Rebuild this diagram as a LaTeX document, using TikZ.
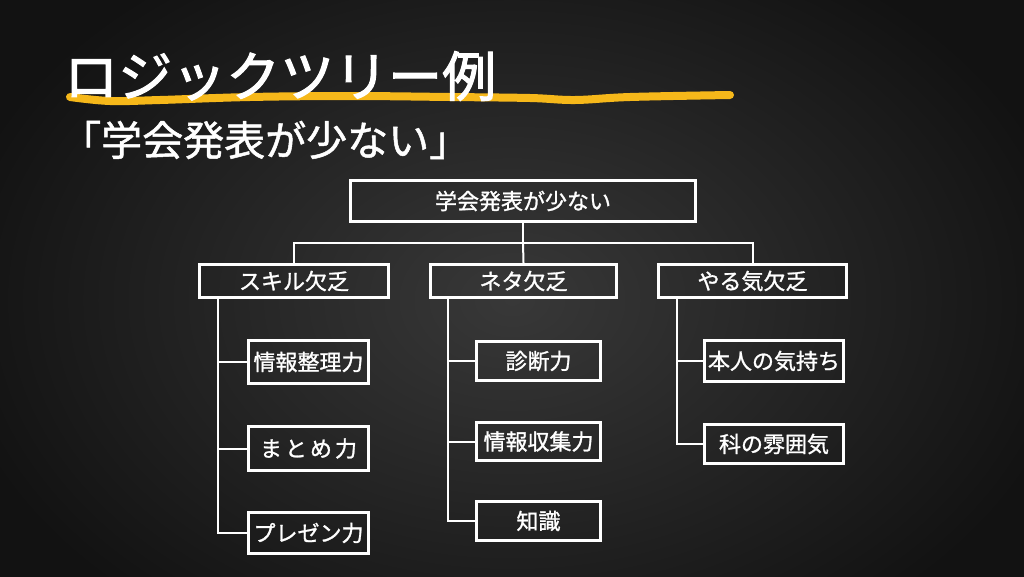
\documentclass[tikz,border=0pt]{standalone}
\usepackage{fontspec}
\newfontfamily\jp{Noto Sans CJK JP}
\newfontfamily\jpm[FakeBold=1.2]{Noto Sans CJK JP}
\newfontfamily\jph[FakeBold=2]{Noto Sans CJK JP}
\definecolor{bgdark}{HTML}{121212}
\definecolor{bgmid}{HTML}{383838}
\definecolor{chalkyellow}{HTML}{F6B81A}
\begin{document}
\begin{tikzpicture}[x=1pt,y=-1pt,
  box/.style={draw=white, line width=3pt, inner sep=0pt, text=white, font=\jpm\fontsize{22}{26}\selectfont},
  lvtwo/.style={box, minimum height=33pt},
  leaf/.style={box, minimum width=120pt},
  conn/.style={draw=white, line width=2pt},
  titletext/.style={anchor=west, inner sep=0pt, text=white}]
\useasboundingbox (0,0) rectangle (1024,576);
\fill[bgdark] (0,0) rectangle (1024,576);
\shade[inner color=bgmid, outer color=bgdark] (-60,-100) rectangle (1084,700);
% yellow brush underline
\draw[chalkyellow, line width=8pt, line cap=round]
  plot[smooth, tension=0.6] coordinates {(70,97) (110,101) (160,100) (250,97) (350,96) (450,97) (530,98) (575,100) (630,97) (730,95)};
% title and subtitle
\node[titletext, font=\jph\fontsize{54}{60}\selectfont] (title) at (64,76) {ロジックツリー例};
\node[titletext, font=\jpm\fontsize{41}{48}\selectfont] (sub) at (60,140) {「学会発表が少ない」};
% root
\node[box, minimum width=345pt, minimum height=41pt] (root) at (523,201) {学会発表が少ない};
% level 2
\node[lvtwo, minimum width=189pt] (skill) at (294,281) {スキル欠乏};
\node[lvtwo, minimum width=186pt] (neta) at (523.5,281) {ネタ欠乏};
\node[lvtwo, minimum width=188pt] (yaruki) at (752.5,281) {やる気欠乏};
% leaves
\node[leaf, minimum height=43pt] (s1) at (308.5,362) {情報整理力};
\node[leaf, minimum height=44pt] (s2) at (308.5,448.5) {ま\hspace{3pt}と\hspace{3pt}め\hspace{3pt}力};
\node[leaf, minimum height=41pt] (s3) at (308.5,533) {プレゼン力};
\node[leaf, minimum width=124pt, minimum height=39pt] (n1) at (538.5,361) {診断力};
\node[leaf, minimum width=124pt, minimum height=38pt] (n2) at (538.5,441.5) {情報収集力};
\node[leaf, minimum width=124pt, minimum height=39pt] (n3) at (538.5,521) {知識};
\node[leaf, minimum width=139pt, minimum height=41pt] (y1) at (774,361) {本人の気持ち};
\node[leaf, minimum width=139pt, minimum height=39pt] (y2) at (774,444) {科の雰囲気};
% connectors level 1 -> 2
\draw[conn] (root.south) -- ++(0,20) coordinate (bus);
\draw[conn] (bus) -| (skill.north);
\draw[conn] (bus) -| (yaruki.north);
\draw[conn] (bus) -- (neta.north);
% connectors level 2 -> leaves
\path (skill.south west) ++(20,0) coordinate (sv);
\path (neta.south west) ++(19,0) coordinate (nv);
\path (yaruki.south west) ++(20,0) coordinate (yv);
\draw[conn] (sv) |- (s1.west);
\draw[conn] (sv) |- (s2.west);
\draw[conn] (sv) |- (s3.west);
\draw[conn] (nv) |- (n1.west);
\draw[conn] (nv) |- (n2.west);
\draw[conn] (nv) |- (n3.west);
\draw[conn] (yv) |- (y1.west);
\draw[conn] (yv) |- (y2.west);
\end{tikzpicture}
\end{document}
